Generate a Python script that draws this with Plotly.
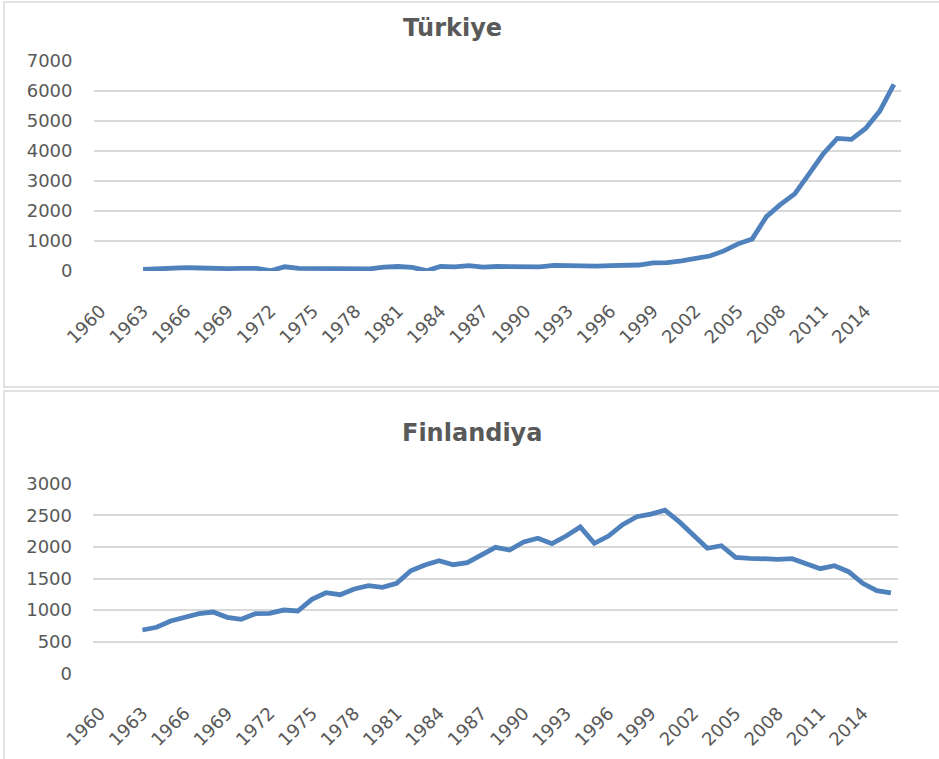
import plotly.graph_objects as go

# veriler
years = list(range(1963, 2017))
turkiye = [50, 80, 100, 110, 100, 80, 80, 90, 90, 10,
           140, 90, 90, 100, 100, 90, 70, 130, 150, 120,
           10, 150, 140, 180, 130, 150, 150, 130, 140, 190,
           170, 140, 160, 180, 190, 200, 270, 280, 340, 420,
           500, 670, 905, 1070, 1810, 2220, 2570, 3230, 3900, 4420,
           4390, 4750, 5330, 6220]
finlandiya = [685, 728, 827, 886, 943, 970, 886, 854, 943, 949,
              1001, 986, 1170, 1275, 1244, 1334, 1386, 1361, 1424, 1623,
              1714, 1782, 1718, 1750, 1867, 1994, 1951, 2078, 2136, 2051,
              2172, 2315, 2057, 2172, 2351, 2478, 2520, 2580, 2399, 2183,
              1978, 2019, 1835, 1820, 1808, 1804, 1813, 1740, 1655, 1703,
              1608, 1424, 1307, 1271]
tick_years = list(range(1960, 2015, 3))

W, H = 939, 759
LINE = "#4f81bd"
GRAY = "#595959"
FONT = "DejaVu Sans"


def px_x(x):
    return x / W


def px_y(y):
    return 1 - y / H


fig = go.Figure()
fig.add_trace(go.Scatter(x=years, y=turkiye, mode="lines", xaxis="x", yaxis="y",
                         line=dict(color=LINE, width=4.8), hoverinfo="x+y"))
fig.add_trace(go.Scatter(x=years, y=finlandiya, mode="lines", xaxis="x2", yaxis="y2",
                         line=dict(color=LINE, width=4.8), hoverinfo="x+y"))

x_common = dict(range=[1959.5, 2016.5], tickmode="array", tickvals=tick_years,
                ticktext=[str(t) for t in tick_years], tickangle=-45,
                showgrid=False, zeroline=False, showline=False, automargin=False,
                tickfont=dict(family=FONT, size=18, color=GRAY),
                ticklabelstandoff=25)
y_common = dict(showgrid=True, gridcolor="#d9d9d9", gridwidth=1.5, zeroline=False,
                showline=False, automargin=False,
                tickfont=dict(family=FONT, size=18, color=GRAY),
                ticklabelstandoff=20)

fig.update_layout(
    width=W, height=H, showlegend=False,
    margin=dict(l=0, r=0, t=0, b=0, autoexpand=False),
    paper_bgcolor="white", plot_bgcolor="white",
    xaxis=dict(domain=[px_x(93.5), px_x(901)], anchor="y", **x_common),
    yaxis=dict(domain=[px_y(271), px_y(61)], anchor="x", range=[0, 7000],
               tickvals=list(range(0, 7001, 1000)), **y_common),
    xaxis2=dict(domain=[px_x(93), px_x(898)], anchor="y2", **x_common),
    yaxis2=dict(domain=[px_y(673.3), px_y(483.7)], anchor="x2", range=[0, 3000],
                tickvals=list(range(0, 3001, 500)), **y_common),
)

# grafik cerceveleri
fig.add_shape(type="rect", xref="paper", yref="paper",
              x0=px_x(4), x1=px_x(960), y0=px_y(387), y1=px_y(2),
              line=dict(color="#d9d9d9", width=1.5), layer="below")
fig.add_shape(type="rect", xref="paper", yref="paper",
              x0=px_x(4), x1=px_x(960), y0=px_y(780), y1=px_y(391),
              line=dict(color="#d9d9d9", width=1.5), layer="below")

# basliklar
fig.add_annotation(text="<b>Türkiye</b>", xref="paper", yref="paper",
                   x=px_x(452), y=px_y(28), xanchor="center", yanchor="middle",
                   showarrow=False, font=dict(family=FONT, size=24, color=GRAY))
fig.add_annotation(text="<b>Finlandiya</b>", xref="paper", yref="paper",
                   x=px_x(472), y=px_y(433), xanchor="center", yanchor="middle",
                   showarrow=False, font=dict(family=FONT, size=24, color=GRAY))

# sayfa kenar boslugunu kaldir
fig.write_html("out.html", config={"displayModeBar": False},
               post_script="document.body.style.margin='0';")
